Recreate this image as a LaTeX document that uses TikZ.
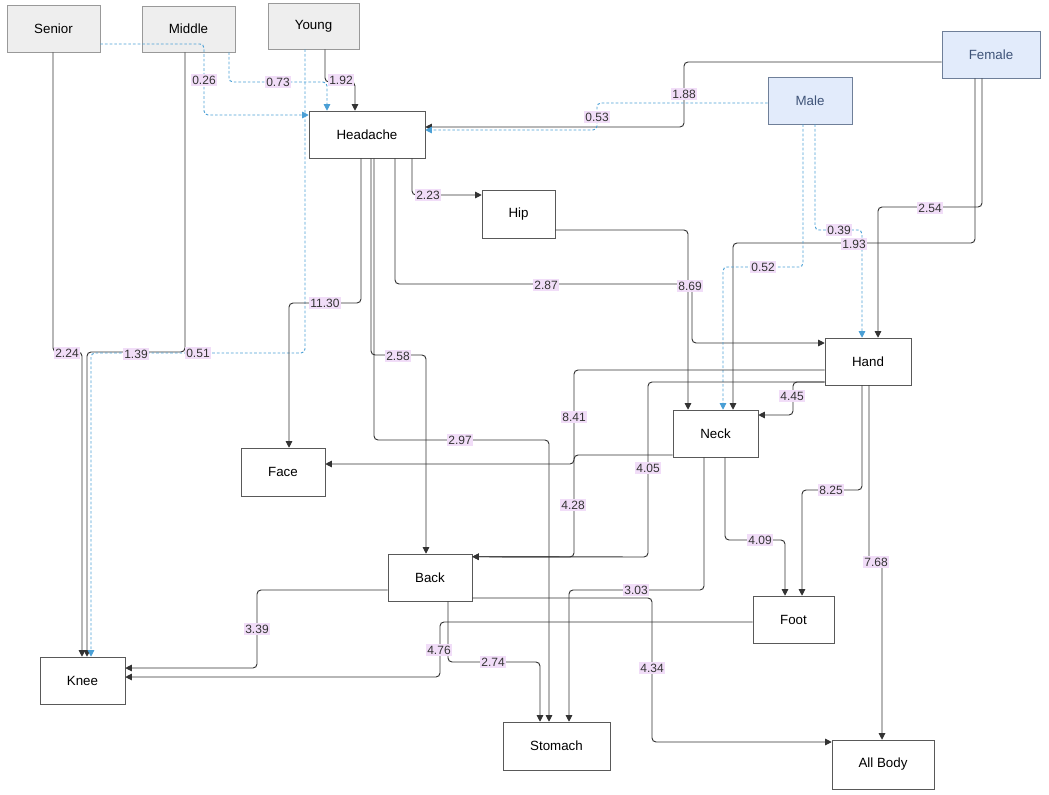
\documentclass[tikz,border=0pt]{standalone}
\usepackage{fontspec}
\setmainfont{Liberation Sans}
\usetikzlibrary{calc,arrows.meta}
\definecolor{gfill}{HTML}{EEEEEE}
\definecolor{bfill}{HTML}{E2EBFB}
\definecolor{bdraw}{HTML}{6F7F99}
\definecolor{btext}{HTML}{3E5378}
\definecolor{dblue}{HTML}{4A9FD5}
\definecolor{lab}{HTML}{F1DDF8}
\begin{document}
\begin{tikzpicture}[x=0.75pt,y=-0.75pt,
  box/.style={draw=black!65,fill=white,font=\fontsize{10}{12}\selectfont,inner sep=0pt},
  gbox/.style={box,fill=gfill,draw=black!40},
  bbox/.style={box,fill=bfill,draw=bdraw,text=btext},
  e/.style={draw=black!80,line width=0.7pt,rounded corners=3pt,-{Triangle[length=5pt,width=5pt]}},
  d/.style={e,draw=dblue,dash pattern=on 2pt off 1.5pt},
  lb/.style={fill=lab,text=black!80,font=\fontsize{9}{10}\selectfont,inner sep=1pt}]
\useasboundingbox (0,0) rectangle (1049,795);
\node[gbox,minimum width=93*0.75pt,minimum height=47*0.75pt] (senior) at (53.5,28.5) {Senior};
\node[gbox,minimum width=93*0.75pt,minimum height=46*0.75pt] (middle) at (188.5,29) {Middle};
\node[gbox,minimum width=91*0.75pt,minimum height=46*0.75pt] (young) at (313.5,26) {Young};
\node[bbox,minimum width=98*0.75pt,minimum height=47*0.75pt] (female) at (991,54.5) {Female};
\node[bbox,minimum width=84*0.75pt,minimum height=47*0.75pt] (male) at (810,100.5) {Male};
\node[box,minimum width=116*0.75pt,minimum height=47*0.75pt] (head) at (367,134.5) {Headache};
\node[box,minimum width=73*0.75pt,minimum height=48*0.75pt] (hip) at (518.5,214) {Hip};
\node[box,minimum width=86*0.75pt,minimum height=47*0.75pt] (hand) at (868,361.5) {Hand};
\node[box,minimum width=85*0.75pt,minimum height=47*0.75pt] (neck) at (715.5,433.5) {Neck};
\node[box,minimum width=84*0.75pt,minimum height=48*0.75pt] (face) at (283,472) {Face};
\node[box,minimum width=84*0.75pt,minimum height=47*0.75pt] (back) at (430,577.5) {Back};
\node[box,minimum width=81*0.75pt,minimum height=47*0.75pt] (foot) at (793.5,619.5) {Foot};
\node[box,minimum width=85*0.75pt,minimum height=47*0.75pt] (knee) at (82.5,680.5) {Knee};
\node[box,minimum width=107*0.75pt,minimum height=48*0.75pt] (stom) at (556.5,746) {Stomach};
\node[box,minimum width=102*0.75pt,minimum height=49*0.75pt] (all) at (883,764.5) {All Body};
% edges
\draw[e] ($(senior.south)+(-0.5,0)$) -- (53,352) -- (82,352) -- ($(knee.north)+(-0.5,0)$);
\draw[e] ($(middle.south)+(-3.5,0)$) -- (185,352) -- (87,352) -- ($(knee.north)+(4.5,0)$);
\draw[d] ($(young.south)+(-8.5,0)$) -- (305,353) -- (91,353) -- ($(knee.north)+(8.5,0)$);
\draw[d] ($(senior.east)+(0,15.5)$) -- (204,44) -- (204,115) -- ($(head.west)+(0,-19.5)$);
\draw[d] ($(middle.south)+(40.5,0)$) -- (229,82) -- (327,82) -- ($(head.north)+(-40,0)$);
\draw[e] ($(young.south)+(11.5,0)$) -- (325,82) -- (355,82) -- ($(head.north)+(-12,0)$);
\draw[e] ($(female.west)+(0,7.5)$) -- (684,62) -- (684,127) -- ($(head.east)+(0,-7.5)$);
\draw[d] ($(male.west)+(0,2.5)$) -- (597,103) -- (597,130) -- ($(head.east)+(0,-4.5)$);
\draw[e] ($(head.south)+(45,0)$) -- (412,195) -- ($(hip.west)+(0,-19)$);
\draw[e] ($(head.south)+(-6,0)$) -- (361,303) -- (289,303) -- ($(face.north)+(6,0)$);
\draw[e] ($(head.south)+(4,0)$) -- (371,355) -- (426,355) -- ($(back.north)+(-4,0)$);
\draw[e] ($(head.south)+(7,0)$) -- (374,440) -- (549,440) -- ($(stom.north)+(-7.5,0)$);
\draw[e] ($(head.south)+(28,0)$) -- (395,284) -- (692,284) -- (692,343) -- ($(hand.west)+(0,-18.5)$);
\draw[e] ($(hip.east)+(0,16)$) -- (688,230) -- ($(neck.north)+(-27.5,0)$);
\draw[e] ($(female.south)+(-9,0)$) -- (982,207) -- (878,207) -- ($(hand.north)+(10,0)$);
\draw[e] ($(female.south)+(-16,0)$) -- (975,243) -- (733,243) -- ($(neck.north)+(17.5,0)$);
\draw[d] ($(male.south)+(5,0)$) -- (815,230) -- (862,230) -- ($(hand.north)+(-6,0)$);
\draw[d] ($(male.south)+(-7,0)$) -- (803,267) -- (723,267) -- ($(neck.north)+(7.5,0)$);
\draw[e] ($(hand.west)+(0,8.5)$) -- (574,370) -- (574,464) -- ($(face.east)+(0,-8)$);
\draw[e] ($(neck.west)+(0,21.5)$) -- (574,455) -- (574,557) -- ($(back.north east)+(0,3)$);
\draw[e] ($(hand.west)+(0,20.5)$) -- (648,382) -- (648,557) -- ($(back.north east)+(0,3)$);
\draw[e] ($(hand.west)+(0,20.5)$) -- (793,382) -- (793,415) -- ($(neck.east)+(0,-18.5)$);
\draw[e] ($(neck.south)+(-11.5,0)$) -- (704,590) -- (569,590) -- ($(stom.north)+(12.5,0)$);
\draw[e] ($(neck.south)+(9.5,0)$) -- (725,540) -- (785,540) -- ($(foot.north)+(-8.5,0)$);
\draw[e] ($(hand.south)+(-6,0)$) -- (862,490) -- (802,490) -- ($(foot.north)+(8.5,0)$);
\draw[e] ($(hand.south)+(1,0)$) -- (869,562) -- (882,562) -- ($(all.north)+(-1,0)$);
\draw[e] ($(back.west)+(0,12.5)$) -- (257,590) -- (257,668) -- ($(knee.east)+(0,-12.5)$);
\draw[e] ($(foot.west)+(0,2.5)$) -- (440,622) -- (440,677) -- ($(knee.east)+(0,-3.5)$);
\draw[e] ($(back.south)+(18,0)$) -- (448,662) -- (540,662) -- ($(stom.north)+(-16.5,0)$);
\draw[e] ($(back.east)+(0,20.5)$) -- (652,598) -- (652,742) -- ($(all.west)+(0,-22.5)$);
% labels
\node[lb] (l1) at (67,353) {2.24};
\node[lb] (l2) at (136,354) {1.39};
\node[lb] (l3) at (198,353) {0.51};
\node[lb] (l4) at (204,80) {0.26};
\node[lb] (l5) at (278,82) {0.73};
\node[lb] (l6) at (341,80) {1.92};
\node[lb] (l7) at (684,94) {1.88};
\node[lb] (l8) at (597,117) {0.53};
\node[lb] (l9) at (428,195) {2.23};
\node[lb] (l10) at (325,303) {11.30};
\node[lb] (l11) at (398,356) {2.58};
\node[lb] (l12) at (460,440) {2.97};
\node[lb] (l13) at (546,285) {2.87};
\node[lb] (l14) at (690,286) {8.69};
\node[lb] (l15) at (930,208) {2.54};
\node[lb] (l16) at (854,244) {1.93};
\node[lb] (l17) at (839,230) {0.39};
\node[lb] (l18) at (763,267) {0.52};
\node[lb] (l19) at (574,417) {8.41};
\node[lb] (l20) at (573,505) {4.28};
\node[lb] (l21) at (648,468) {4.05};
\node[lb] (l22) at (792,396) {4.45};
\node[lb] (l23) at (636,590) {3.03};
\node[lb] (l24) at (760,540) {4.09};
\node[lb] (l25) at (831,490) {8.25};
\node[lb] (l26) at (876,562) {7.68};
\node[lb] (l27) at (257,629) {3.39};
\node[lb] (l28) at (439,650) {4.76};
\node[lb] (l29) at (493,662) {2.74};
\node[lb] (l30) at (652,668) {4.34};
\end{tikzpicture}
\end{document}
